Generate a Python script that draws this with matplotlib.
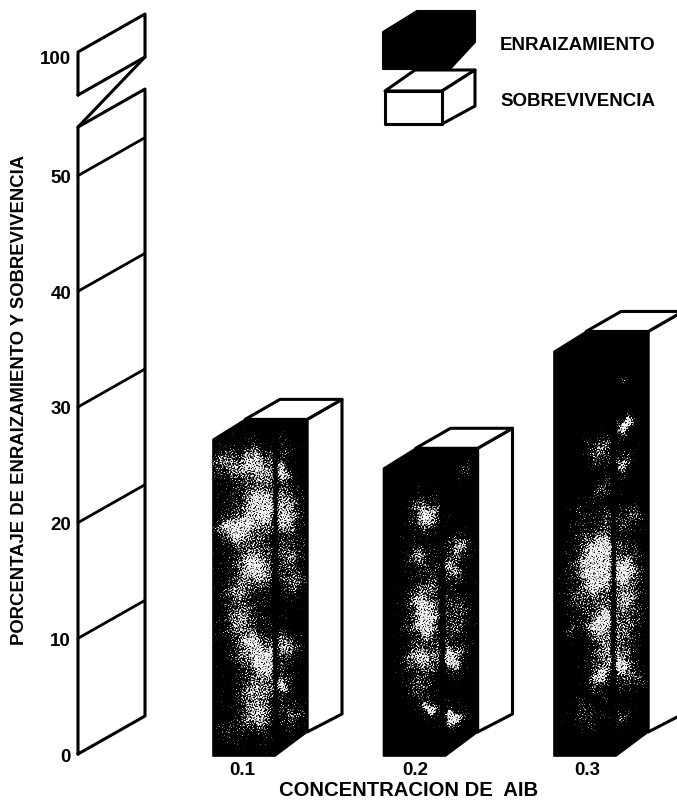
import matplotlib
matplotlib.use('Agg')
import matplotlib.pyplot as plt
import matplotlib.transforms as mtransforms
from matplotlib.patches import Polygon
import numpy as np

W, H = 677, 803

concentrations = [0.1, 0.2, 0.3]
conc_labels = ['0.1', '0.2', '0.3']
enraizamiento = [27.2, 24.7, 34.8]
sobrevivencia = [27.2, 24.7, 34.8]
y_ticks = [0, 10, 20, 30, 40, 50, 100]
y_ticklabels = ['0', '10', '20', '30', '40', '50', '100']

# broken percent axis: value -> height in pixels above the bottom edge
V_KNOTS = [-50.0, 54.2, 96.3, 100.0, 200.0]
P_KNOTS = [48 - 578.0, 675.0, 707.0, 750.0, 1906.0]
BREAK_LOW, BREAK_HIGH, AXIS_TOP, FLOOR = 54.2, 96.3, 100.0, -0.17

# light patches on the dark fronts: centre x, centre y, spread, strength
mottle_01 = [(225, 465, 9, .4), (255, 465, 12, .6), (263, 505, 9, .75), (242, 528, 11, .55),
             (228, 530, 7, .3), (255, 568, 11, .65), (293, 582, 8, .4), (238, 618, 9, .45),
             (248, 645, 10, .5), (265, 662, 8, .75), (285, 645, 8, .45), (280, 473, 4, .8),
             (285, 522, 8, .5), (290, 500, 7, .35), (255, 718, 10, .55), (292, 715, 8, .35),
             (280, 688, 4, .7), (225, 735, 6, .25), (255, 692, 11, .4), (238, 590, 9, .35),
             (290, 555, 8, .35), (285, 445, 7, .2)]
mottle_02 = [(425, 515, 9, .75), (418, 558, 6, .55), (458, 545, 6, .55), (452, 568, 7, .55),
             (422, 605, 9, .55), (425, 625, 7, .75), (452, 658, 7, .8), (415, 658, 8, .35),
             (428, 708, 4, .75), (452, 718, 5, 1.0), (465, 472, 6, .3), (418, 688, 8, .35),
             (458, 605, 8, .3), (428, 585, 7, .3), (458, 625, 7, .3), (426, 660, 8, .35)]
mottle_03 = [(622, 378, 3, .4), (625, 425, 4, 1.0), (598, 450, 8, .5), (623, 463, 6, .55),
             (602, 490, 6, .35), (578, 513, 7, .2), (632, 517, 7, .35), (598, 550, 10, .75),
             (595, 577, 12, .7), (625, 570, 7, .75), (628, 600, 8, .45), (602, 623, 8, .75),
             (578, 603, 6, .25), (628, 630, 9, .3), (620, 663, 6, .75), (598, 677, 6, .65),
             (632, 680, 7, .35), (585, 717, 9, .35), (620, 717, 6, .35), (572, 630, 4, .25),
             (605, 650, 10, .35), (610, 520, 8, .25)]
mottles = [mottle_01, mottle_02, mottle_03]
dark_stripes = [275, 442, 613]


def to_px(v):
    return np.interp(v, V_KNOTS, P_KNOTS)


def from_px(p):
    return np.interp(p, P_KNOTS, V_KNOTS)


def lift(v, px=38.0):
    # value drawn px pixels higher, used for the receding edges
    return from_px(to_px(v) + px)


def halftone(x0, x1, y0, y1, patches, stripe):
    X, Y = np.meshgrid(np.arange(x0, x1), np.arange(y0, y1))
    # warp the patches a little so they are not perfectly round
    Xw = X + 2 * np.sin(Y * 0.19 + 1.3) + 1.5 * np.sin(Y * 0.47 + X * 0.11)
    Yw = Y + 3 * np.sin(X * 0.23 + 0.4) + 1.5 * np.sin(X * 0.53 - Y * 0.13)
    I = np.zeros(X.shape)
    for cx, cy, sp, s in patches:
        r2 = (Xw - cx) ** 2 + (Yw - cy) ** 2
        I += s * (np.exp(-r2 / (2.0 * sp ** 2)) + 0.4 * np.exp(-r2 / (2.0 * (2.3 * sp) ** 2)))
    I = np.clip(I, 0, 1.0)
    I *= 1 - 0.9 * np.exp(-((X - stripe) / 2.5) ** 2)
    # uneven print screen, crossed waves instead of one clean grid
    u = X + 1.0 * np.sin(Y * 0.83) + 0.8 * np.sin(X * 0.61 + Y * 0.37)
    v = Y + 1.0 * np.sin(X * 0.79) + 0.8 * np.sin(Y * 0.67 - X * 0.41)
    k = 2 * np.pi / 4.6
    screen = 0.42 + 0.4 * np.sin(u * k * 0.86 + v * k * 0.5) * np.sin(v * k * 0.86 - u * k * 0.5)
    screen += 0.09 * np.sin(1.37 * X + 2.13 * Y) + 0.09 * np.sin(2.71 * X - 1.29 * Y)
    a = np.clip((I - (1 - screen)) * 3.0, 0, 1)
    rgba = np.ones(X.shape + (4,))
    rgba[..., :3] = 0.95
    rgba[..., 3] = a
    return rgba


plt.rcParams['font.family'] = ['Liberation Sans', 'DejaVu Sans']
plt.rcParams['font.weight'] = 'bold'
plt.rcParams['axes.labelweight'] = 'bold'

fig = plt.figure(figsize=(W / 100, H / 100), dpi=100)
ax = fig.add_axes([78 / W, (H - 757) / H, (W - 78) / W, 757 / H])
ax.set_yscale('function', functions=(to_px, from_px))
ax.set_ylim(FLOOR, from_px(H))
ax.set_xlim(0.00264, 0.35395)
ax.patch.set_visible(False)
for s in ax.spines.values():
    s.set_visible(False)

LW = 2.2
DEPTH_X = 67 / 1705
HALF_W = 31 / 1705
ax0 = ax.get_xlim()[0]


def edge(xs, ys, lw=LW):
    ax.plot(xs, ys, color='black', lw=lw, clip_on=False, solid_capstyle='round', solid_joinstyle='round')


# percent axis drawn as a receding wall with a break
back = ax0 + DEPTH_X
edge([ax0, ax0, back, back, ax0], [0, BREAK_LOW, lift(BREAK_LOW), lift(0), 0])
for v in y_ticks[1:-1]:
    edge([ax0, back], [v, lift(v)], lw=2.0)
edge([ax0, ax0, back, back, ax0], [BREAK_HIGH, AXIS_TOP, lift(AXIS_TOP), lift(BREAK_HIGH), BREAK_HIGH])
edge([back, ax0], [lift(BREAK_HIGH), BREAK_LOW])

ax.set_yticks(y_ticks, y_ticklabels)
ax.set_xticks(concentrations, conc_labels)
ax.minorticks_off()
ax.tick_params(axis='both', length=0, labelsize=13.5)
ax.tick_params(axis='y', pad=5)
ax.tick_params(axis='x', pad=3.5)
for lab, shift in zip(ax.get_xticklabels(), [-2, 1, 2]):
    lab.set_transform(lab.get_transform() + mtransforms.ScaledTranslation(shift / 100, 0, fig.dpi_scale_trans))
ax.get_yticklabels()[-1].set_transform(
    ax.get_yticklabels()[-1].get_transform() + mtransforms.ScaledTranslation(0, -4 / 100, fig.dpi_scale_trans))
ax.set_ylabel('PORCENTAJE DE ENRAIZAMIENTO Y SOBREVIVENCIA', fontsize=13.3, va='center')
ax.yaxis.set_label_coords((20 - 78) / (W - 78), (757 - 400) / 757)
ax.set_xlabel('CONCENTRACION DE  AIB', fontsize=14.6, va='center')
ax.xaxis.set_label_coords((409 - 78) / (W - 78), -(791 - 757) / 757)

# pixel overlay for the key and the mottled print texture
ov = fig.add_axes([0, 0, 1, 1], zorder=2)
ov.axis('off')

for c, v_front, v_back, patches, stripe in zip(concentrations, enraizamiento, sobrevivencia, mottles, dark_stripes):
    xl, xr = c - HALF_W, c + HALF_W
    mid = DEPTH_X * 0.48
    # rear half of the box, survival
    rear = [(xr + mid, lift(FLOOR, 24)), (xr + DEPTH_X, lift(FLOOR, 42)), (xr + DEPTH_X, lift(v_back, 40)),
            (xr + mid, lift(v_back, 20))]
    ax.add_patch(Polygon(rear, closed=True, fc='white', ec='black', lw=LW, clip_on=False, joinstyle='round'))
    top = [(xl + mid, lift(v_back, 20)), (xl + DEPTH_X, lift(v_back, 40)), (xr + DEPTH_X, lift(v_back, 40)),
           (xr + mid, lift(v_back, 20))]
    ax.add_patch(Polygon(top, closed=True, fc='white', ec='black', lw=LW, clip_on=False, joinstyle='round'))
    # front half of the box, rooting
    front = [(xl, FLOOR), (xr, FLOOR), (xr + mid, lift(FLOOR, 24)), (xr + mid, lift(v_front, 20)),
             (xl + mid, lift(v_front, 20)), (xl, v_front)]
    poly = Polygon(front, closed=True, fc='black', ec='black', lw=1.2, clip_on=False, joinstyle='round')
    ax.add_patch(poly)
    px_l = int(ax.transData.transform((xl, 0))[0])
    px_r = px_l + 100
    top_y = int(H - to_px(v_front) - 25)
    tex = halftone(px_l, px_r, top_y, 760, patches, stripe)
    im = ov.imshow(tex, extent=(px_l, px_r, 760, top_y), interpolation='bilinear', aspect='auto')
    im.set_clip_path(poly)

# key boxes
ov.add_patch(Polygon([(383, 33), (417, 12), (475, 12), (475, 43), (450, 70), (383, 70)], closed=True,
                     fc='black', ec='black', lw=1.5, joinstyle='round'))
ov.add_patch(Polygon([(385, 92), (415, 71), (475, 71), (442, 92)], closed=True, fc='white', ec='black', lw=LW,
                     joinstyle='round'))
ov.add_patch(Polygon([(442, 92), (475, 71), (475, 107), (442, 125)], closed=True, fc='white', ec='black', lw=LW,
                     joinstyle='round'))
ov.add_patch(Polygon([(385, 92), (442, 92), (442, 125), (385, 125)], closed=True, fc='white', ec='black', lw=LW,
                     joinstyle='round'))
ov.text(500, 45, 'ENRAIZAMIENTO', fontsize=13.5, va='center', ha='left')
ov.text(500, 102, 'SOBREVIVENCIA', fontsize=13.5, va='center', ha='left')
ov.set_xlim(0, W)
ov.set_ylim(H, 0)

fig.savefig('out.png', dpi=100, facecolor='white')
